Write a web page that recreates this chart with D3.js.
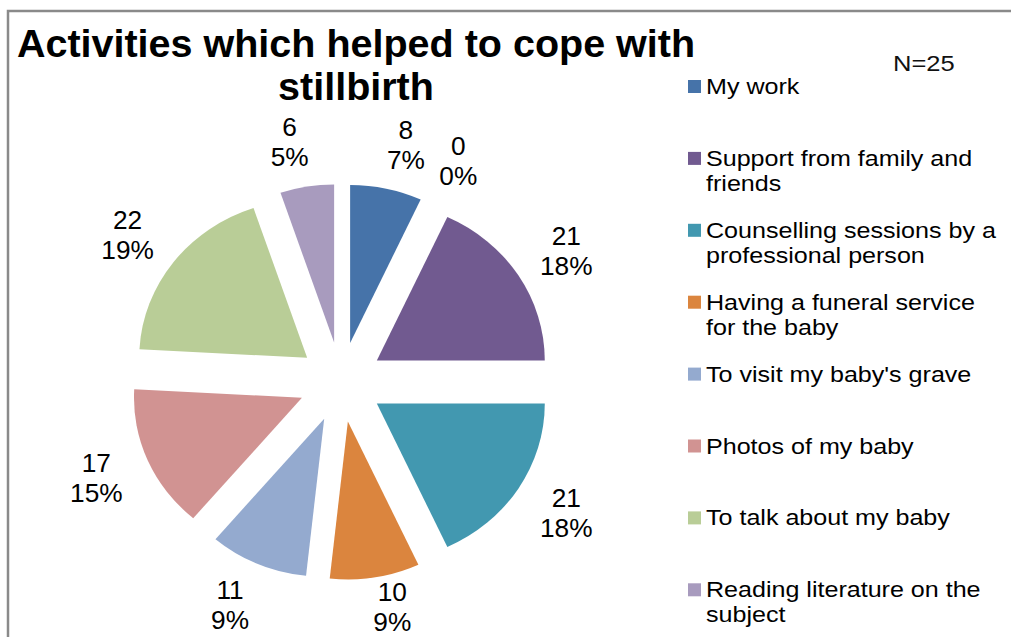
<!DOCTYPE html>
<html>
<head>
<meta charset="utf-8">
<script src="https://cdn.jsdelivr.net/npm/d3@7"></script>
<style>
  html, body { margin: 0; padding: 0; background: #fff; }
  svg { display: block; }
  text { font-family: "Liberation Sans", Arial, sans-serif; fill: #000; }
</style>
</head>
<body>
<svg id="chart" width="1011" height="637"></svg>
<script>
// ---- data ----
const titleLines = ["Activities which helped to cope with", "stillbirth"];
const noteText = "N=25";
const categories = [
  "My work",
  "",
  "Support from family and friends",
  "Counselling sessions by a professional person",
  "Having a funeral service for the baby",
  "To visit my baby's grave",
  "Photos of my baby",
  "To talk about my baby",
  "Reading literature on the subject"
];
const values = [8, 0, 21, 21, 10, 11, 17, 22, 6];
const colors = ["#4673A9", "#C0504D", "#715A90", "#4298B0", "#DB853E", "#94AACF", "#D19392", "#B9CD97", "#A89BBE"];

// ---- layout ----
const svg = d3.select("#chart");
const W = 1011, H = 637;
const cx = 341, cy = 382;
const radius = 158, stretchX = 1.063, explode = 40;

// border
svg.append("path")
  .attr("d", `M8,${H + 5} L8,11 L${W + 5},11`)
  .attr("fill", "none").attr("stroke", "#8a8a8a").attr("stroke-width", 2.5);

// title
svg.append("g").selectAll("text").data(titleLines).join("text")
  .attr("x", 356).attr("y", (d, i) => 57 + i * 43)
  .attr("text-anchor", "middle")
  .style("font-size", "39.5px").style("font-weight", "bold")
  .text(d => d);

// pie
const total = d3.sum(values);
const pie = d3.pie().sort(null).value(d => d.v).startAngle(0).endAngle(2 * Math.PI);
const arcs = pie(values.map((v, i) => ({ v, i, name: categories[i] })));
const arc = d3.arc().innerRadius(0).outerRadius(radius);

const gPie = svg.append("g").attr("transform", `translate(${cx},${cy}) scale(${stretchX},1)`);
gPie.selectAll("path").data(arcs.filter(a => a.data.v > 0)).join("path")
  .attr("transform", d => {
    const m = (d.startAngle + d.endAngle) / 2;
    return `translate(${explode * Math.sin(m)},${-explode * Math.cos(m)})`;
  })
  .attr("d", arc)
  .attr("fill", d => colors[d.data.i]);

// data labels (outside end)
const gLab = svg.append("g");
arcs.forEach(d => {
  const m = (d.startAngle + d.endAngle) / 2;
  const s = Math.sin(m), c = Math.cos(m);
  const px = stretchX * (radius + explode) * s;
  const py = -(radius + explode) * c;
  const lx = cx + px + Math.sign(s) * (10 + 45 * Math.abs(s));
  let ly = cy + py - 45 * c;
  ly = Math.min(ly, 607);
  const pct = Math.round(d.data.v / total * 100) + "%";
  [String(d.data.v), pct].forEach((t, k) => {
    gLab.append("text")
      .attr("transform", `translate(${lx},${ly - 15 + k * 30 + 9}) scale(1.05,1)`)
      .attr("text-anchor", "middle")
      .style("font-size", "25px")
      .text(t);
  });
});

// N note
svg.append("text")
  .attr("transform", "translate(893,71) scale(1.16,1)")
  .style("font-size", "22px").style("fill", "#111")
  .text(noteText);

// legend
const legX = 688, legTextX = 706, legY0 = 94, legStep = 71.9, legScale = 1.14, maxW = 300;
const legItems = categories.map((c, i) => ({ c, i })).filter(d => d.c !== "");
const gLeg = svg.append("g");
legItems.forEach((d, k) => {
  const by = legY0 + k * legStep;
  gLeg.append("rect")
    .attr("x", legX).attr("y", by - 14).attr("width", 13).attr("height", 13)
    .attr("fill", colors[d.i]);
  const words = d.c.split(" ");
  const lines = [];
  let cur = "";
  const probe = gLeg.append("text").style("font-size", "22px");
  words.forEach(w => {
    const test = cur ? cur + " " + w : w;
    probe.text(test);
    if (probe.node().getComputedTextLength() * legScale > maxW && cur) {
      lines.push(cur); cur = w;
    } else cur = test;
  });
  lines.push(cur);
  probe.remove();
  lines.forEach((t, j) => {
    gLeg.append("text")
      .attr("transform", `translate(${legTextX},${by + j * 25}) scale(${legScale},1)`)
      .style("font-size", "22px")
      .text(t);
  });
});
</script>
</body>
</html>
